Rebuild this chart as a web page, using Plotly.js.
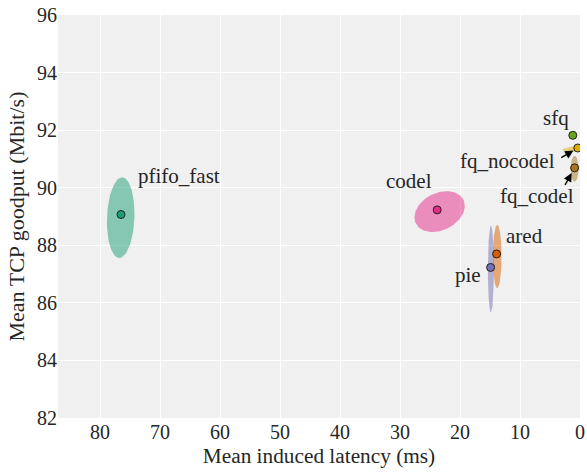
<!DOCTYPE html>
<html><head><meta charset="utf-8">
<script src="https://cdn.plot.ly/plotly-3.0.1.min.js"></script>
<style>html,body{margin:0;padding:0;background:#fff}</style>
</head><body><div id="chart" style="width:587px;height:474px"></div>
<script>
// ---- data ----
const qdiscs = ['pfifo_fast', 'codel', 'pie', 'ared', 'sfq', 'fq_nocodel', 'fq_codel'];
const latency = [76.5, 23.8, 14.9, 13.9, 1.2, 0.37, 0.9];        // mean induced latency (ms)
const goodput = [89.07, 89.23, 87.23, 87.70, 91.82, 91.38, 90.69]; // mean TCP goodput (Mbit/s)
const ellCenterX = [76.55, 23.4, 14.85, 13.8, 1.2, 0.4, 0.9];
const ellCenterY = [88.96, 89.17, 87.17, 87.61, 91.82, 91.35, 90.66];
const ellSpreadX = [2.3, 4.2, 0.5, 0.73, 0.0, 2.5, 0.65];
const ellSpreadY = [1.40, 0.71, 1.51, 1.10, 0.0, 0.1, 0.45];
const ellCorr = [-0.1, -0.28, 0, 0, 0, -0.3, 0];
const xTicks = [0, 10, 20, 30, 40, 50, 60, 70, 80];
const yTicks = [82, 84, 86, 88, 90, 92, 94, 96];

// ---- styles ----
const colors = ['#1b9e77', '#e7298a', '#7570b3', '#d95f02', '#66a61e', '#e6ab02', '#a6761d'];
const labelPos = {
  'pfifo_fast': {xanchor: 'left', xshift: 15, yshift: 38},
  'codel': {xanchor: 'center', xshift: -28, yshift: 29},
  'pie': {xanchor: 'right', xshift: -8, yshift: -8},
  'ared': {xanchor: 'left', xshift: 7, yshift: 18},
  'sfq': {xanchor: 'right', xshift: -2, yshift: 17},
  'fq_nocodel': {xanchor: 'right', xshift: -21, yshift: -13},
  'fq_codel': {xanchor: 'right', xshift: 1, yshift: -28}
};
const arrows = {
  'fq_nocodel': {ax: -17, ay: 10, standoff: 5},
  'fq_codel': {ax: -10, ay: 18, standoff: 6}
};

function hexA(h, a) {
  const r = parseInt(h.slice(1, 3), 16), g = parseInt(h.slice(3, 5), 16), b = parseInt(h.slice(5, 7), 16);
  return `rgba(${r},${g},${b},${a})`;
}

const traces = [];
qdiscs.forEach((q, i) => {
  if (ellSpreadX[i] <= 0 || ellSpreadY[i] <= 0) return;
  const xs = [], ys = [];
  const rho = ellCorr[i], s = Math.sqrt(1 - rho * rho);
  for (let k = 0; k <= 120; k++) {
    const t = 2 * Math.PI * k / 120;
    xs.push(ellCenterX[i] + ellSpreadX[i] * Math.cos(t));
    ys.push(ellCenterY[i] + ellSpreadY[i] * (rho * Math.cos(t) + s * Math.sin(t)));
  }
  traces.push({x: xs, y: ys, type: 'scatter', mode: 'lines', fill: 'toself',
    fillcolor: hexA(colors[i], 0.5), line: {width: 0}, hoverinfo: 'skip', showlegend: false});
});
traces.push({x: latency, y: goodput, type: 'scatter', mode: 'markers', text: qdiscs,
  marker: {color: colors, size: 8, line: {color: '#222', width: 1}}, showlegend: false});

const annotations = [];
qdiscs.forEach((q, i) => {
  const p = labelPos[q];
  annotations.push({x: latency[i], y: goodput[i], xref: 'x', yref: 'y', text: q, showarrow: false,
    xanchor: p.xanchor, yanchor: 'middle', xshift: p.xshift, yshift: p.yshift,
    font: {size: 21, color: '#262626'}});
  if (arrows[q]) {
    const a = arrows[q];
    annotations.push({x: latency[i], y: goodput[i], xref: 'x', yref: 'y', text: ' ', showarrow: true,
      font: {size: 1}, borderpad: 0,
      ax: a.ax, ay: a.ay, standoff: a.standoff, arrowhead: 2, arrowsize: 1.2, arrowwidth: 1.4, arrowcolor: '#000'});
  }
});

const layout = {
  width: 587, height: 474,
  margin: {l: 58, r: 7, t: 15, b: 56, pad: 0},
  paper_bgcolor: '#ffffff', plot_bgcolor: '#eff0ef',
  font: {family: '"Liberation Serif", "Times New Roman", serif', size: 20, color: '#262626'},
  showlegend: false,
  xaxis: {range: [87, 0], tickvals: xTicks, ticks: '', showgrid: true, gridcolor: '#ffffff', gridwidth: 1,
    zeroline: false, showline: false, automargin: false,
    title: {text: 'Mean induced latency (ms)', font: {size: 21.3}, standoff: 6}},
  yaxis: {range: [82, 96], tickvals: yTicks, ticks: '', showgrid: true, gridcolor: '#ffffff', gridwidth: 1,
    zeroline: false, showline: false, automargin: false,
    title: {text: 'Mean TCP goodput (Mbit/s)', font: {size: 22}, standoff: 6}},
  annotations: annotations
};

Plotly.newPlot('chart', traces, layout, {displayModeBar: false, staticPlot: true});
</script>
</body></html>
